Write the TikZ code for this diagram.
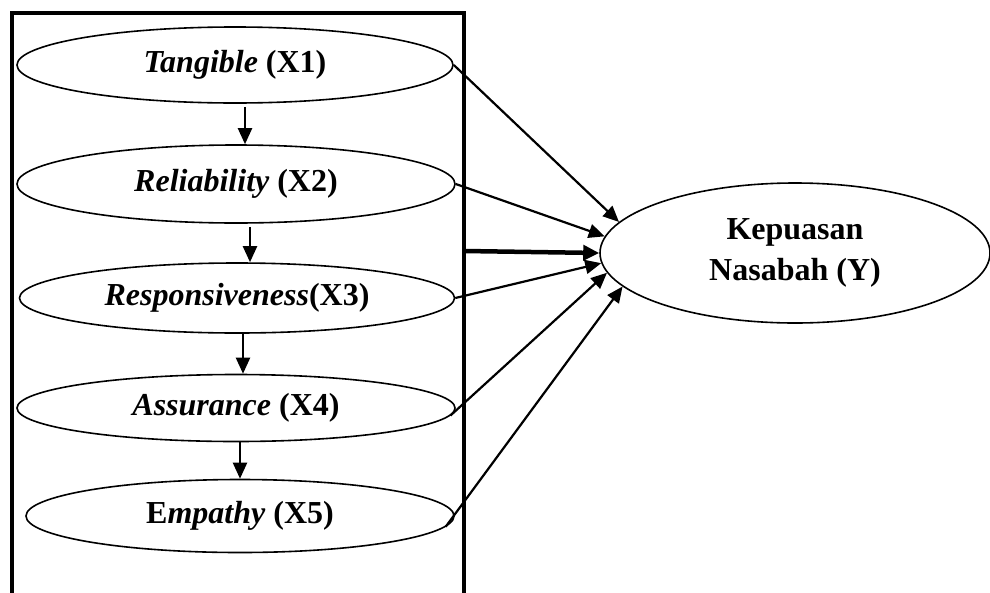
\documentclass[tikz,border=0pt]{standalone}
\usepackage{fontspec}
\setmainfont{Liberation Serif}
\usetikzlibrary{shapes.geometric,arrows.meta}
\begin{document}
\begin{tikzpicture}[x=1pt,y=-1pt,
  oval/.style={draw,ellipse,line width=1.6pt,inner sep=0pt,
    font=\fontsize{32}{41}\selectfont\bfseries,align=center},
  arr/.style={-{Triangle[length=16pt,width=14pt]},line width=2.2pt},
  thickarr/.style={-{Triangle[length=16pt,width=15pt]},line width=4.5pt},
  frame/.style={line width=3.6pt}]
\clip (0,0) rectangle (990,592);
\fill[white] (0,0) rectangle (990,592);
\draw[frame] (12,640) -- (12,13) -- (464,13) -- (464,640);
\coordinate (rr) at (464,251);

\node[oval,minimum width=436pt,minimum height=76pt] (e1) at (235,65) {\itshape Tangible\upshape{} (X1)};
\node[oval,minimum width=438pt,minimum height=78pt] (e2) at (236,184) {\itshape Reliability\upshape{} (X2)};
\node[oval,minimum width=435pt,minimum height=70pt] (e3) at (237,298) {\itshape Responsiveness\upshape(X3)};
\node[oval,minimum width=438pt,minimum height=67pt] (e4) at (236,408) {\itshape Assurance\upshape{} (X4)};
\node[oval,minimum width=428pt,minimum height=73pt] (e5) at (240,516) {E\itshape mpathy\upshape{} (X5)};
\node[oval,minimum width=390pt,minimum height=140pt] (y) at (795,253) {Kepuasan\\Nasabah (Y)};

\draw[arr,shorten <=3pt] ([xshift=10pt]e1.south) -- ([xshift=9pt]e2.north);
\draw[arr,shorten <=3pt] ([xshift=14pt]e2.south) -- ([xshift=13pt]e3.north);
\draw[arr] ([xshift=6pt]e3.south) -- ([xshift=7pt]e4.north);
\draw[arr] ([xshift=4pt]e4.south) -- ([xshift=0pt]e5.north);

\draw[arr] (e1.east) -- (y.170.4);
\draw[arr] (e2.east) -- (y.175.1);
\draw[thickarr] (rr) -- (y.west);
\draw[arr] (e3.east) -- (y.183.2);
\draw[arr] (e4.-2.4) -- (y.186.2);
\draw[arr] (e5.-3.3) -- (y.191.6);
\end{tikzpicture}
\end{document}
